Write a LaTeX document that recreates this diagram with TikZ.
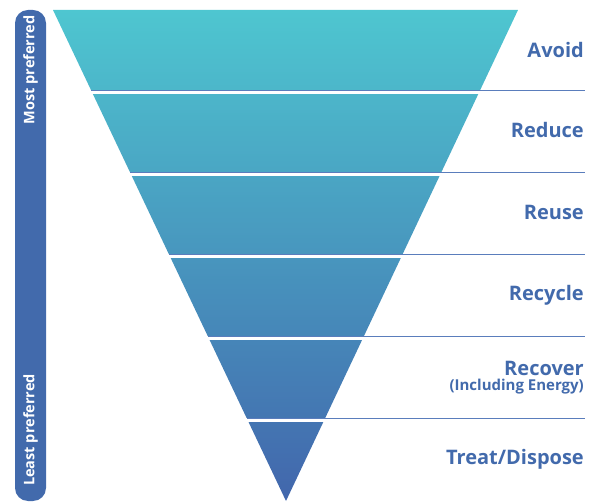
\documentclass[tikz,border=0pt]{standalone}
\usepackage{fontspec}
\setmainfont{Open Sans}
\definecolor{barblue}{RGB}{66,106,172}
\definecolor{labblue}{RGB}{66,106,172}
\definecolor{lineblue}{RGB}{90,125,188}
\definecolor{topcyan}{RGB}{78,198,208}
\definecolor{midcyan}{RGB}{64,152,196}
\definecolor{botblue}{RGB}{66,102,172}
\begin{document}
\begin{tikzpicture}[x=1pt,y=-1pt,
  lab/.style={anchor=east,text=labblue,font=\fontsize{20}{22}\selectfont\bfseries,inner sep=0pt},
  sublab/.style={anchor=east,text=labblue,font=\fontsize{15}{17}\selectfont\bfseries,inner sep=0pt},
  bartext/.style={rotate=90,text=white,font=\fontsize{14.5}{16}\selectfont\bfseries,inner sep=0pt},
  sep/.style={draw=lineblue,line width=1.3pt},
  gap/.style={fill=white,draw=none}]
\useasboundingbox (0,0) rectangle (600,502);
% side bar
\fill[barblue,rounded corners=13pt] (15,10) rectangle (46,501);
\node[bartext] (most) at (30.5,70) {Most preferred};
\node[bartext] (least) at (30.5,430) {Least preferred};
% triangle
\coordinate (TL) at (53,10);
\coordinate (TR) at (518,10);
\coordinate (AP) at (286,501);
\shade[top color=topcyan,middle color=midcyan,bottom color=botblue] (TL) -- (TR) -- (AP) -- cycle;
% white gaps
\foreach \y in {90,172,254,336,418}{
  \fill[gap] (52,\y) rectangle (540,\y+4);
}
% separator lines
\draw[sep] (91,90.5) -- (585,90.5);
\draw[sep] (130,172.5) -- (585,172.5);
\draw[sep] (169,254.5) -- (585,254.5);
\draw[sep] (208,336.5) -- (585,336.5);
\draw[sep] (247,418.5) -- (585,418.5);
% labels
\node[lab] (avoid) at (584,50) {Avoid};
\node[lab] (reduce) at (584,130) {Reduce};
\node[lab] (reuse) at (584,212) {Reuse};
\node[lab] (recycle) at (584,295) {Recycle};
\node[lab] (recover) at (584,368) {Recover};
\node[sublab] (incl) at (584,387) {(Including Energy)};
\node[lab] (treat) at (584,459) {Treat/Dispose};
\end{tikzpicture}
\end{document}
